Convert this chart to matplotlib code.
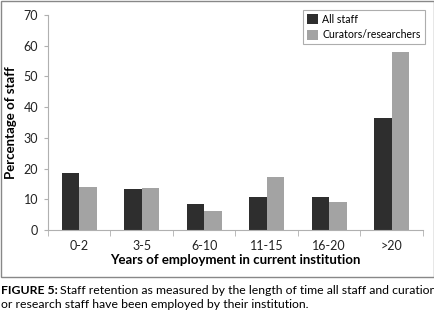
import numpy as np
import matplotlib
matplotlib.use("Agg")
import matplotlib.pyplot as plt
from matplotlib.patches import Rectangle

plt.rcParams['font.family'] = ['Lato', 'DejaVu Sans']

categories = ['0-2', '3-5', '6-10', '11-15', '16-20', '>20']
all_staff = [18.7, 13.4, 8.4, 10.8, 10.7, 36.4]
curators = [14.1, 13.6, 6.1, 17.2, 9.2, 57.9]
y_ticks = [0, 10, 20, 30, 40, 50, 60, 70]

dark = '#2e2e2e'
light = '#a3a3a3'
axis_grey = '#b0b0b0'

fig = plt.figure(figsize=(4.35, 3.12), dpi=100)
ax = fig.add_axes([0.110, 0.263, 0.862, 0.689])

x = np.arange(len(categories))
w = 0.28
ax.bar(x - w / 2, all_staff, w, color=dark, label='All staff')
ax.bar(x + w / 2, curators, w, color=light, label='Curators/researchers')

ax.set_xlim(-0.5, len(categories) - 0.5)
ax.set_ylim(0, 70)
ax.set_yticks(y_ticks)
ax.set_xticks(x)
ax.set_xticklabels(categories)
ax.set_xticks(np.arange(-0.5, len(categories)), minor=True)
ax.tick_params(axis='x', which='major', length=0, pad=7, labelsize=9, colors='#222222')
ax.tick_params(axis='x', which='minor', length=4, color=axis_grey)
ax.tick_params(axis='y', length=3, color=axis_grey, labelsize=9, labelcolor='#222222', pad=4)
for s in ['top', 'right']:
    ax.spines[s].set_visible(False)
ax.spines['left'].set_color(axis_grey)
ax.spines['bottom'].set_color(axis_grey)

ax.set_ylabel('Percentage of staff', fontsize=9.5, fontweight='bold', va='center')
ax.yaxis.set_label_coords(-0.097, 0.5)
ax.set_xlabel('Years of employment in current institution', fontsize=9.5, fontweight='bold', va='center')
ax.xaxis.set_label_coords(0.5, -0.14)

leg = ax.legend(loc='upper right', bbox_to_anchor=(0.988, 0.984), bbox_transform=fig.transFigure,
                fontsize=7.6, frameon=True, fancybox=False, edgecolor='#999999',
                handlelength=1.1, handleheight=1.1, handletextpad=0.4, borderpad=0.35,
                labelspacing=0.4)
leg.get_frame().set_linewidth(0.8)

# outer frame around the chart
fig.patches.append(Rectangle((0.003, 1 - 277 / 312), 0.994, 277 / 312 - 0.003, transform=fig.transFigure,
                             fill=False, edgecolor='#888888', linewidth=1.0))

# caption
fig.canvas.draw()
r = fig.canvas.get_renderer()
t1 = fig.text(0.002, 1 - 290 / 312, 'FIGURE 5:', fontsize=8.8, fontweight='bold', va='center')
bb = t1.get_window_extent(renderer=r)
fig.text(bb.x1 / fig.bbox.width + 0.005, 1 - 290 / 312,
         'Staff retention as measured by the length of time all staff and curation',
         fontsize=8.8, va='center')
fig.text(0.002, 1 - 304 / 312, 'or research staff have been employed by their institution.',
         fontsize=8.8, va='center')

fig.savefig('out.png', dpi=100)
